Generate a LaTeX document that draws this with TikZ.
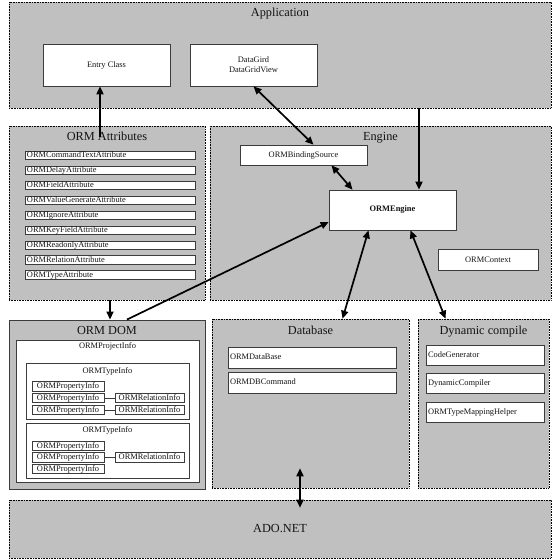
\documentclass[tikz,border=0pt]{standalone}
\usepackage{fontspec}
\setmainfont{Liberation Serif}
\usepackage{tikz}
\usetikzlibrary{arrows.meta, positioning, calc}
\definecolor{ORMGray}{RGB}{192, 192, 192}
\definecolor{ORMEdge}{RGB}{60, 60, 60}
\definecolor{ORMText}{RGB}{20, 20, 20}

\tikzset{
  groupbox/.style={fill=ORMGray, draw=black, densely dotted, line width=0.6pt},
  grouptitle/.style={anchor=base, inner sep=0pt, text=ORMText, font=\fontsize{12.3}{14}\selectfont},
  smalltitle/.style={anchor=base, inner sep=0pt, text=ORMText, font=\fontsize{8.4}{10}\selectfont},
  itembox/.style={fill=white, draw=ORMEdge, line width=0.7pt, text=ORMText, font=\fontsize{8.4}{10}\selectfont},
  listbox/.style={itembox, text width=#1, align=left, inner xsep=2pt, inner ysep=0pt,
    text height=6pt, text depth=1.6pt, minimum height=8.5pt},
  propbox/.style={itembox, minimum width=72pt, minimum height=9.3pt, inner sep=0pt,
    text height=6pt, text depth=1.6pt},
  relbox/.style={propbox, minimum width=69pt},
  arrowline/.style={line width=1.7pt, -{Triangle[length=8pt, width=7pt]}},
  bothline/.style={line width=1.7pt, {Triangle[length=8pt, width=7pt]}-{Triangle[length=8pt, width=7pt]}},
  link/.style={draw=ORMEdge, line width=0.7pt}
}

\begin{document}
\begin{tikzpicture}[x=1pt, y=-1pt]
  \useasboundingbox (0,0) rectangle (553,560);

  \node[groupbox, minimum width=542pt, minimum height=106pt] (app) at (280,55) {};
  \node[grouptitle] (apptitle) at ([yshift=-15pt]app.north) {Application};
  \node[itembox, minimum width=127pt, minimum height=42pt] (entry) at (106.5,65) {Entry Class};
  \node[itembox, minimum width=127pt, minimum height=42pt, align=center] (grid) at (253.5,65) {DataGird\\DataGridView};

  \node[groupbox, minimum width=196pt, minimum height=174pt] (attrs) at (107,213) {};
  \node[grouptitle] (attrstitle) at ([yshift=-15pt]attrs.north) {ORM Attributes};
  \foreach \attr [count=\i from 0] in {ORMCommandTextAttribute, ORMDelayAttribute, ORMFieldAttribute,
      ORMValueGenerateAttribute, ORMIgnoreAttribute, ORMKeyFieldAttribute, ORMReadonlyAttribute,
      ORMRelationAttribute, ORMTypeAttribute}
    \node[listbox=166pt] (attr\i) at (110,{155.5+14.94*\i}) {\attr};

  \node[groupbox, minimum width=341pt, minimum height=174pt] (engine) at (380.5,213) {};
  \node[grouptitle] (enginetitle) at ([yshift=-15pt]engine.north) {Engine};
  \node[itembox, minimum width=127pt, minimum height=20pt] (binding) at (303.5,155) {ORMBindingSource};
  \node[itembox, minimum width=127pt, minimum height=40pt, font=\fontsize{8.4}{10}\selectfont\bfseries] (ormengine) at (392.5,210) {ORMEngine};
  \node[itembox, minimum width=100pt, minimum height=21pt] (context) at (488,259.5) {ORMContext};

  \node[groupbox, solid, draw=ORMEdge, line width=0.9pt, minimum width=196pt, minimum height=169pt] (dom) at (107,404.5) {};
  \node[grouptitle] (domtitle) at ([yshift=-15pt]dom.north) {ORM DOM};
  \node[itembox, minimum width=183pt, minimum height=142pt] (project) at (107.5,411) {};
  \node[smalltitle] (projecttitle) at ([yshift=-9pt]project.north) {ORMProjectInfo};
  \node[itembox, minimum width=163pt, minimum height=56pt] (typeA) at (107.5,391) {};
  \node[smalltitle] (typeAtitle) at ([yshift=-11pt]typeA.north) {ORMTypeInfo};
  \foreach \y [count=\i] in {386.3, 398, 410}
    \node[propbox] (propA\i) at (68,\y) {ORMPropertyInfo};
  \node[relbox] (relA2) at (149.5,398) {ORMRelationInfo};
  \node[relbox] (relA3) at (149.5,410) {ORMRelationInfo};
  \draw[link] (propA2) -- (relA2);
  \draw[link] (propA3) -- (relA3);
  \node[itembox, minimum width=163pt, minimum height=55pt] (typeB) at (107.5,450.5) {};
  \node[smalltitle] (typeBtitle) at ([yshift=-10pt]typeB.north) {ORMTypeInfo};
  \foreach \y [count=\i] in {446, 457.2, 469}
    \node[propbox] (propB\i) at (68,\y) {ORMPropertyInfo};
  \node[relbox] (relB2) at (149.5,457.2) {ORMRelationInfo};
  \draw[link] (propB2) -- (relB2);

  \node[groupbox, minimum width=197pt, minimum height=169pt] (db) at (310.5,403.5) {};
  \node[grouptitle] (dbtitle) at ([yshift=-16pt]db.north) {Database};
  \node[listbox=164pt, minimum height=21pt] (dbbase) at (312,357.5) {ORMDataBase};
  \node[listbox=164pt, minimum height=21pt] (dbcmd) at (312,382.5) {ORMDBCommand};

  \node[groupbox, minimum width=131pt, minimum height=169pt] (dyn) at (483.5,403.5) {};
  \node[grouptitle] (dyntitle) at ([yshift=-16pt]dyn.north) {Dynamic compile};
  \node[listbox=114pt, minimum height=20pt] (codegen) at (485,355) {CodeGenerator};
  \node[listbox=114pt, minimum height=20pt] (compiler) at (485,383) {DynamicCompiler};
  \node[listbox=114pt, minimum height=20pt] (typemap) at (485,412) {ORMTypeMappingHelper};

  \node[groupbox, minimum width=542pt, minimum height=58pt, text=ORMText, font=\fontsize{12.3}{14}\selectfont] (ado) at (280,529) {ADO.NET};

  \coordinate (attrtop) at (100,137);
  \coordinate (enginetop) at ([xshift=26.5pt]ormengine.north);
  \coordinate (adolink) at ([xshift=-10.5pt]db.south);
  \draw[arrowline] (attrtop) -- (attrtop |- entry.south);
  \draw[bothline] (grid.south) -- ([xshift=10pt]binding.north);
  \draw[arrowline] (enginetop |- app.south) -- (enginetop);
  \draw[bothline] ([xshift=28pt]binding.south) -- ([xshift=-40pt]ormengine.north);
  \draw[arrowline] ([xshift=20pt]dom.north) -- ([yshift=-12pt]ormengine.west);
  \draw[arrowline] ([xshift=3pt]attrs.south) -- ([xshift=3pt]dom.north);
  \draw[bothline] ([xshift=-24pt]ormengine.south) -- ([xshift=32pt]db.north);
  \draw[bothline] ([xshift=18pt]ormengine.south) -- ([xshift=-38pt]dyn.north);
  \draw[bothline] ([yshift=20pt]adolink) -- ([yshift=-8pt]adolink |- ado.north);
\end{tikzpicture}
\end{document}
